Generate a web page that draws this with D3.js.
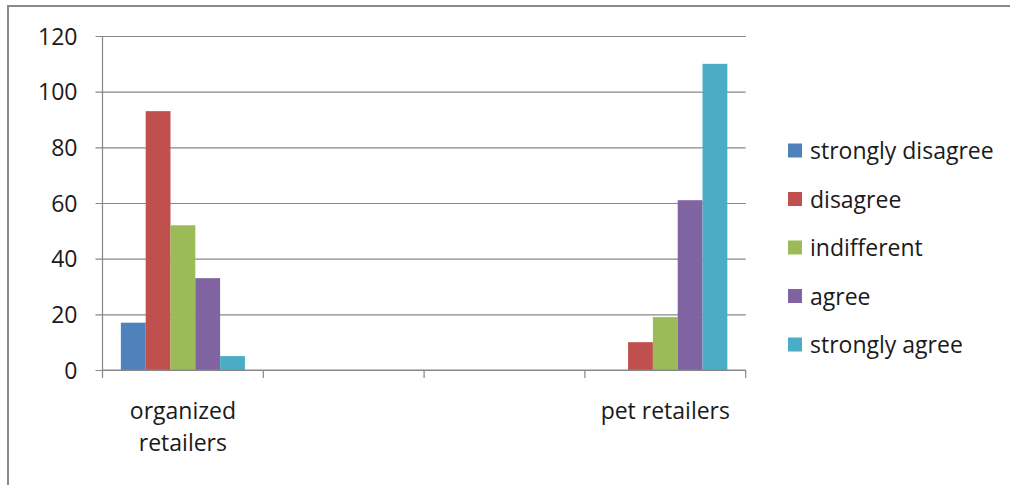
<!DOCTYPE html>
<html>
<head>
<meta charset="utf-8">
<script src="https://cdn.jsdelivr.net/npm/d3@7"></script>
<style>
  html, body { margin: 0; padding: 0; background: #fff; }
  svg { display: block; }
  text { font-family: "Open Sans", "DejaVu Sans", sans-serif; fill: #1a1a1a; }
</style>
</head>
<body>
<svg id="chart" width="1010" height="485"></svg>
<script>
// Response categories (x axis) – the two middle slots are empty in the sheet
const categories = ["organized retailers", "", "", "pet retailers"];

// Series names (legend order)
const seriesNames = ["strongly disagree", "disagree", "indifferent", "agree", "strongly agree"];

// Values per series, one entry per category
const stronglyDisagree = [17, null, null, 0];
const disagree         = [93, null, null, 10];
const indifferent      = [52, null, null, 19];
const agree            = [33, null, null, 61];
const stronglyAgree    = [5,  null, null, 110];

const yTicks = [0, 20, 40, 60, 80, 100, 120];

const seriesColors = ["#4F81BD", "#C0504D", "#9BBB59", "#8064A2", "#4BACC6"];

const seriesValues = [stronglyDisagree, disagree, indifferent, agree, stronglyAgree];

const svg = d3.select("#chart");

// outer frame
svg.append("rect")
  .attr("x", 8).attr("y", 6)
  .attr("width", 1030).attr("height", 500)
  .attr("fill", "none")
  .attr("stroke", "#8a8a8a")
  .attr("stroke-width", 2);

const plot = { left: 102.5, right: 745.7, top: 36, bottom: 370 };

const x = d3.scaleBand()
  .domain(d3.range(categories.length))
  .range([plot.left, plot.right])
  .paddingInner(0).paddingOuter(0);

const xs = d3.scaleBand()
  .domain(d3.range(seriesNames.length))
  .range([0, x.bandwidth()])
  .paddingInner(0).paddingOuter(0.74);

const y = d3.scaleLinear().domain([0, 120]).range([plot.bottom, plot.top]);

const gridColor = "#878787";

// horizontal gridlines + y axis
const yAxis = d3.axisLeft(y)
  .tickValues(yTicks)
  .tickSize(-(plot.right - plot.left))
  .tickPadding(0)
  .tickFormat(d3.format("d"));

const gy = svg.append("g")
  .attr("transform", `translate(${plot.left},0)`)
  .call(yAxis);
gy.select(".domain").remove();
gy.selectAll(".tick line")
  .attr("x1", -7)
  .attr("stroke", gridColor)
  .attr("stroke-width", 1.2);
gy.selectAll(".tick text")
  .attr("x", -25)
  .attr("dy", "0.35em")
  .style("font-size", "23px")
  .style("font-family", "'Open Sans', sans-serif")
  .attr("fill", "#1a1a1a");

// vertical axis line
svg.append("line")
  .attr("x1", plot.left).attr("x2", plot.left)
  .attr("y1", plot.top).attr("y2", plot.bottom)
  .attr("stroke", gridColor).attr("stroke-width", 1.2);

// bars
const barData = [];
seriesValues.forEach((vals, si) => {
  vals.forEach((v, ci) => {
    if (v != null && v > 0) barData.push({ si, ci, v });
  });
});

svg.append("g").selectAll("rect")
  .data(barData)
  .join("rect")
  .attr("x", d => x(d.ci) + xs(d.si))
  .attr("width", xs.bandwidth())
  .attr("y", d => y(d.v))
  .attr("height", d => y(0) - y(d.v))
  .attr("fill", d => seriesColors[d.si]);

// x axis with category boundary ticks
const xAxisG = svg.append("g");
xAxisG.append("line")
  .attr("x1", plot.left).attr("x2", plot.right)
  .attr("y1", plot.bottom).attr("y2", plot.bottom)
  .attr("stroke", gridColor).attr("stroke-width", 1.2);
const boundaries = d3.range(categories.length + 1).map(i =>
  i < categories.length ? x(i) : x(categories.length - 1) + x.bandwidth());
xAxisG.selectAll("line.bt")
  .data(boundaries)
  .join("line")
  .attr("class", "bt")
  .attr("x1", d => d).attr("x2", d => d)
  .attr("y1", plot.bottom).attr("y2", plot.bottom + 8)
  .attr("stroke", gridColor).attr("stroke-width", 1.2);

// category labels, wrapped to the slot width
const labelMax = x.bandwidth() - 12;
categories.forEach((c, i) => {
  if (!c) return;
  const t = svg.append("text")
    .attr("x", x(i) + x.bandwidth() / 2)
    .attr("y", 419)
    .attr("text-anchor", "middle")
    .style("font-size", "23px");
  const words = c.split(" ");
  let line = [];
  let tspan = t.append("tspan").attr("x", x(i) + x.bandwidth() / 2).attr("dy", 0);
  let lineNo = 0;
  words.forEach(w => {
    line.push(w);
    tspan.text(line.join(" "));
    if (tspan.node().getComputedTextLength() > labelMax && line.length > 1) {
      line.pop();
      tspan.text(line.join(" "));
      line = [w];
      lineNo++;
      tspan = t.append("tspan")
        .attr("x", x(i) + x.bandwidth() / 2)
        .attr("dy", 32)
        .text(w);
    }
  });
});

// legend
const legend = svg.append("g").attr("transform", "translate(788,151)");
const rowStep = 48.5;
seriesNames.forEach((name, i) => {
  const g = legend.append("g").attr("transform", `translate(0,${i * rowStep})`);
  g.append("rect")
    .attr("x", 0).attr("y", -7.5)
    .attr("width", 14).attr("height", 14)
    .attr("fill", seriesColors[i]);
  g.append("text")
    .attr("x", 22).attr("y", 0)
    .attr("dy", "0.35em")
    .style("font-size", "23px")
    .text(name);
});
</script>
</body>
</html>
